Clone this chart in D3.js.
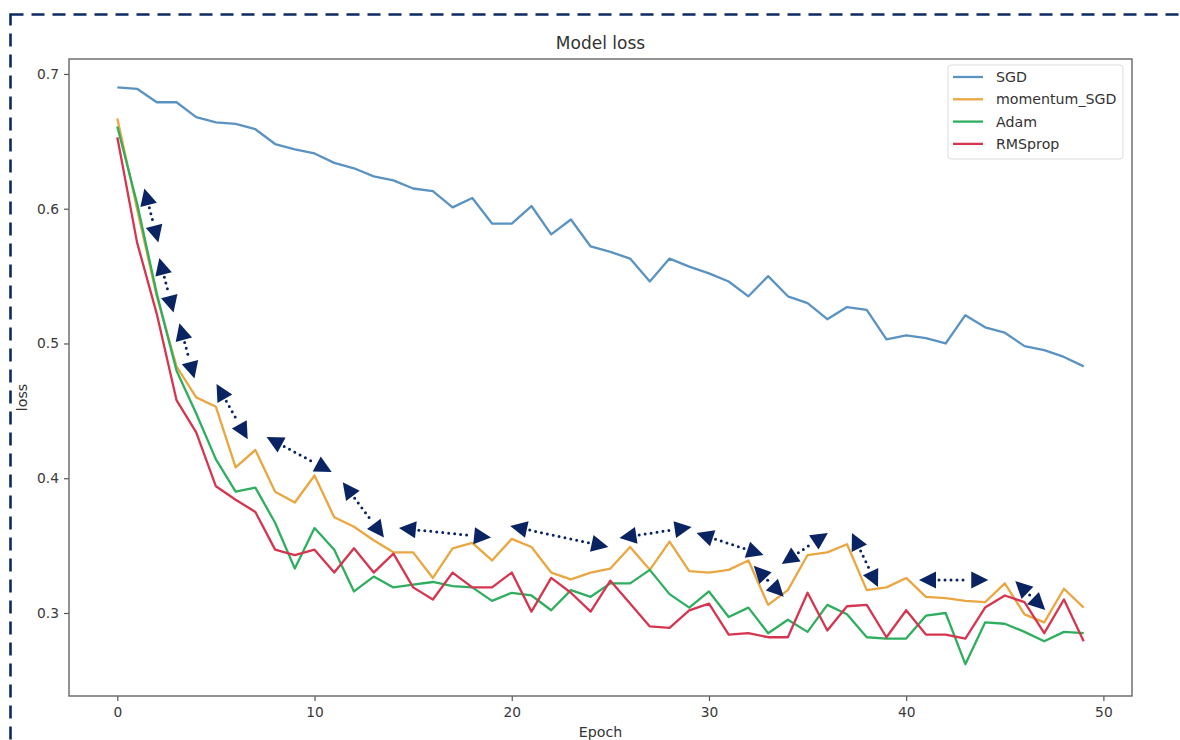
<!DOCTYPE html>
<html>
<head>
<meta charset="utf-8">
<script src="https://cdn.jsdelivr.net/npm/d3@7"></script>
<style>
  html, body { margin: 0; padding: 0; background: #fff; }
  svg { display: block; }
  text { font-family: "DejaVu Sans", sans-serif; }
</style>
</head>
<body>
<svg id="chart" width="1180" height="740"></svg>
<script>
// ---- data ----
const epochs = d3.range(50);
const seriesNames = ["SGD", "momentum_SGD", "Adam", "RMSprop"];
const sgd = [0.690,0.689,0.679,0.679,0.668,0.664,0.663,0.659,0.648,0.644,0.641,0.634,0.630,0.624,0.621,0.615,0.613,0.601,0.608,0.589,0.589,0.602,0.581,0.592,0.572,0.568,0.563,0.546,0.563,0.557,0.552,0.546,0.535,0.550,0.535,0.530,0.518,0.527,0.525,0.503,0.506,0.504,0.500,0.521,0.512,0.508,0.498,0.495,0.490,0.483];
const momentumSGD = [0.667,0.600,0.535,0.483,0.460,0.453,0.408,0.421,0.390,0.382,0.402,0.371,0.364,0.354,0.345,0.345,0.326,0.348,0.352,0.339,0.355,0.349,0.330,0.325,0.330,0.333,0.349,0.332,0.353,0.331,0.330,0.332,0.339,0.306,0.317,0.343,0.345,0.351,0.317,0.319,0.326,0.312,0.311,0.309,0.308,0.322,0.299,0.293,0.318,0.304];
const adam = [0.661,0.604,0.537,0.480,0.448,0.414,0.390,0.393,0.367,0.333,0.363,0.347,0.316,0.327,0.319,0.321,0.323,0.320,0.319,0.309,0.315,0.313,0.302,0.317,0.312,0.322,0.322,0.332,0.314,0.304,0.316,0.297,0.304,0.285,0.295,0.286,0.306,0.299,0.282,0.281,0.281,0.298,0.300,0.262,0.293,0.292,0.286,0.279,0.286,0.285];
const rmsprop = [0.653,0.575,0.522,0.458,0.434,0.394,0.384,0.375,0.347,0.343,0.347,0.330,0.348,0.330,0.344,0.319,0.310,0.330,0.319,0.319,0.330,0.301,0.326,0.315,0.301,0.324,0.307,0.290,0.289,0.302,0.307,0.284,0.285,0.282,0.282,0.315,0.287,0.305,0.306,0.282,0.302,0.284,0.284,0.281,0.304,0.313,0.308,0.285,0.310,0.279];
const seriesColors = ["#5a93c2", "#eaa640", "#2eae5e", "#d6354f"];
const xTicks = [0, 10, 20, 30, 40, 50];
const yTicks = [0.3, 0.4, 0.5, 0.6, 0.7];
// annotation arrows: [epoch1, loss1, epoch2, loss2]
const arrows = [
  [1.37,0.615, 2.08,0.575],
  [2.13,0.5635, 2.85,0.523],
  [3.15,0.515, 3.91,0.474],
  [5.03,0.470, 6.61,0.429],
  [7.57,0.4306, 10.87,0.4046],
  [11.43,0.397, 13.52,0.356],
  [14.28,0.363, 18.95,0.356],
  [19.92,0.3646, 24.90,0.349],
  [25.46,0.3557, 29.12,0.3638],
  [29.37,0.3594, 32.77,0.343],
  [32.27,0.335, 33.79,0.312],
  [33.69,0.3364, 36.03,0.3594],
  [37.25,0.3594, 38.57,0.3193],
  [40.65,0.3245, 44.16,0.3245],
  [45.53,0.3237, 47.05,0.3022]
];

const allSeries = [sgd, momentumSGD, adam, rmsprop];

// ---- layout ----
const svg = d3.select("#chart");
const plot = { left: 69, right: 1132, top: 59, bottom: 696 };
const x = d3.scaleLinear().domain([-2.45, 51.45]).range([plot.left, plot.right]);
const y = d3.scaleLinear().domain([0.2384, 0.7111]).range([plot.bottom, plot.top]);

// outer dashed frame (top & left visible)
svg.append("rect")
  .attr("x", 10.5).attr("y", 14.5).attr("width", 1300).attr("height", 900)
  .attr("fill", "none").attr("stroke", "#0c2a60").attr("stroke-width", 2.6)
  .attr("stroke-dasharray", "13,8");

// axes
const xAxis = d3.axisBottom(x).tickValues(xTicks).tickSize(5).tickPadding(6).tickFormat(d3.format("d"));
const yAxis = d3.axisLeft(y).tickValues(yTicks).tickSize(5).tickPadding(5).tickFormat(d3.format(".1f"));

const gx = svg.append("g").attr("transform", `translate(0,${plot.bottom})`).call(xAxis);
const gy = svg.append("g").attr("transform", `translate(${plot.left},0)`).call(yAxis);
[gx, gy].forEach(g => {
  g.select(".domain").remove();
  g.selectAll(".tick line").attr("stroke", "#555").attr("stroke-width", 1.2);
  g.selectAll(".tick text").attr("fill", "#3a3a3a").style("font-size", "13.8px").style("font-family", "DejaVu Sans, sans-serif");
});

// lines
const line = d3.line().x((d, i) => x(epochs[i])).y(d => y(d));
const lineG = svg.append("g");
allSeries.forEach((s, k) => {
  lineG.append("path").datum(s)
    .attr("d", line)
    .attr("fill", "none")
    .attr("stroke", seriesColors[k])
    .attr("stroke-width", 2.3)
    .attr("stroke-linejoin", "round");
});

// frame
svg.append("rect")
  .attr("x", plot.left).attr("y", plot.top)
  .attr("width", plot.right - plot.left).attr("height", plot.bottom - plot.top)
  .attr("fill", "none").attr("stroke", "#666").attr("stroke-width", 1.4);

// title & labels
svg.append("text").attr("x", (plot.left + plot.right) / 2).attr("y", 49)
  .attr("text-anchor", "middle").attr("fill", "#333").style("font-size", "17px").text("Model loss");
svg.append("text").attr("x", (plot.left + plot.right) / 2).attr("y", 737)
  .attr("text-anchor", "middle").attr("fill", "#333").style("font-size", "14.2px").text("Epoch");
svg.append("text").attr("transform", `translate(27,${(plot.top + plot.bottom) / 2 + 20}) rotate(-90)`)
  .attr("text-anchor", "middle").attr("fill", "#333").style("font-size", "14.2px").text("loss");

// legend
const lg = svg.append("g").attr("transform", "translate(948,65)");
lg.append("rect").attr("width", 175).attr("height", 94).attr("rx", 3)
  .attr("fill", "#fff").attr("fill-opacity", 0.85).attr("stroke", "#dcdcdc").attr("stroke-width", 1);
seriesNames.forEach((name, k) => {
  const yy = 12 + k * 22.3;
  lg.append("line").attr("x1", 5).attr("x2", 35).attr("y1", yy).attr("y2", yy)
    .attr("stroke", seriesColors[k]).attr("stroke-width", 2.3);
  lg.append("text").attr("x", 48).attr("y", yy + 5).attr("fill", "#333")
    .style("font-size", "14.2px").text(name);
});

// annotation arrows
const navy = "#0a2463";
const ag = svg.append("g");
const headLen = 17, headHalf = 8.5;
arrows.forEach(a => {
  const p1 = [x(a[0]), y(a[1])], p2 = [x(a[2]), y(a[3])];
  const dx = p2[0] - p1[0], dy = p2[1] - p1[1];
  const L = Math.hypot(dx, dy), ux = dx / L, uy = dy / L;
  const b1 = [p1[0] + ux * headLen, p1[1] + uy * headLen];
  const b2 = [p2[0] - ux * headLen, p2[1] - uy * headLen];
  ag.append("line")
    .attr("x1", b1[0] + ux * 3).attr("y1", b1[1] + uy * 3)
    .attr("x2", b2[0] - ux * 3).attr("y2", b2[1] - uy * 3)
    .attr("stroke", navy).attr("stroke-width", 3)
    .attr("stroke-linecap", "round").attr("stroke-dasharray", "0,6");
  const tri = (tip, base) => {
    const px = -uy, py = ux;
    return [tip, [base[0] + px * headHalf, base[1] + py * headHalf], [base[0] - px * headHalf, base[1] - py * headHalf]];
  };
  [tri(p1, b1), tri(p2, b2)].forEach(pts => {
    ag.append("path").attr("d", d3.line()(pts) + "Z").attr("fill", navy);
  });
});
</script>
</body>
</html>
